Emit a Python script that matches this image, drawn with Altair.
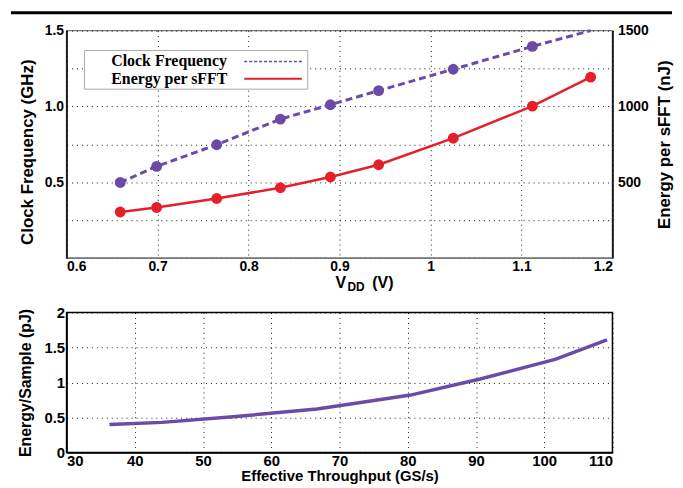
import altair as alt
import pandas as pd

# ---- data ----
vdd = [0.659, 0.699, 0.765, 0.835, 0.890, 0.943, 1.025, 1.112, 1.176]
clock_ghz = [0.498, 0.604, 0.747, 0.916, 1.011, 1.104, 1.245, 1.396, 1.50]
clock_marker = [True, True, True, True, True, True, True, True, False]
energy_nj = [303, 333, 392, 463, 534, 615, 790, 1002, 1193]

throughput = [36.3, 44.0, 54.4, 66.7, 73.6, 80.4, 90.6, 101.6, 109.2]
energy_per_sample = [0.40, 0.43, 0.51, 0.62, 0.72, 0.82, 1.05, 1.33, 1.61]

series_names = ["Clock Frequency", "Energy per sFFT"]
PURPLE = "#6B4BA6"
RED = "#E4202A"

FONT = "Liberation Sans"
SERIF = "Liberation Serif"

top_df = pd.DataFrame({"vdd": vdd, "clock": clock_ghz, "marker": clock_marker, "energy": energy_nj})
bot_df = pd.DataFrame({"tp": throughput, "eps": energy_per_sample})

W = 550
H_TOP = 229
H_BOT = 141

GRID = dict(grid=True, gridColor="#000", gridDash=[1, 4], gridOpacity=0.9)
LBL = dict(labelFont=FONT, labelFontWeight="bold", labelColor="#000", ticks=False)
TTL = dict(titleFont=FONT, titleFontWeight="bold", titleColor="#000")

xtop = alt.X("vdd:Q", scale=alt.Scale(domain=[0.6, 1.2], nice=False),
             axis=alt.Axis(values=[0.6, 0.7, 0.8, 0.9, 1.0, 1.1, 1.2], labelExpr="format(datum.value, '.1~f')",
                           title=None, domainColor="#777", labelPadding=2, labelFontSize=14, **GRID, **LBL))

y_clock = alt.Y("clock:Q", scale=alt.Scale(domain=[0, 1.5], nice=False),
                axis=alt.Axis(orient="left", values=[0, 0.25, 0.5, 0.75, 1.0, 1.25, 1.5],
                              labelExpr="(datum.value==0.5||datum.value==1||datum.value==1.5) ? format(datum.value,'.1f') : ''",
                              title="Clock Frequency (GHz)", titleFontSize=17, titlePadding=8, titleY=122,
                              domainColor="#000", domainWidth=1.5, labelPadding=3, labelFontSize=14,
                              **GRID, **LBL, **TTL))

y_energy = alt.Y("energy:Q", scale=alt.Scale(domain=[0, 1500], nice=False),
                 axis=alt.Axis(orient="right", values=[500, 1000, 1500], format="d",
                               title="Energy per sFFT (nJ)", titleFontSize=17,
                               titleAngle=-90, titleBaseline="top", titlePadding=8,
                               grid=False, domainColor="#000", domainWidth=1.5, labelPadding=5,
                               labelFontSize=14, **LBL, **TTL))

base = alt.Chart(top_df)
clock_line = base.mark_line(color=PURPLE, strokeWidth=3, strokeDash=[7, 4]).encode(x=xtop, y=y_clock)
clock_pts = base.transform_filter("datum.marker").mark_circle(color=PURPLE, size=120, opacity=1).encode(x=xtop, y=y_clock)
energy_line = base.mark_line(color=RED, strokeWidth=2.5).encode(x=xtop, y=y_energy)
energy_pts = base.mark_circle(color=RED, size=120, opacity=1).encode(x=xtop, y=y_energy)

clock_layer = alt.layer(clock_line, clock_pts)
energy_layer = alt.layer(energy_line, energy_pts)
data_layer = alt.layer(clock_layer, energy_layer).resolve_scale(y="independent")

# legend box and entries
leg_df = pd.DataFrame({"name": series_names})
one = alt.Chart(leg_df).transform_filter(f"datum.name=='{series_names[0]}'")
two = alt.Chart(leg_df).transform_filter(f"datum.name=='{series_names[1]}'")

legend_box = one.mark_rect(fill="white", stroke="#aaa", strokeWidth=1).encode(
    x=alt.value(18), x2=alt.value(243), y=alt.value(20), y2=alt.value(59))
leg_text1 = one.mark_text(font=SERIF, fontSize=16, fontWeight="bold", align="left", baseline="middle",
                          color="#000").encode(text="name:N", x=alt.value(45), y=alt.value(31))
leg_text2 = two.mark_text(font=SERIF, fontSize=16, fontWeight="bold", align="left", baseline="middle",
                          color="#000").encode(text="name:N", x=alt.value(45), y=alt.value(48.5))
leg_line1 = one.mark_rule(color=PURPLE, strokeWidth=1.5, strokeDash=[3, 2]).encode(
    x=alt.value(179), x2=alt.value(237), y=alt.value(31))
leg_line2 = two.mark_rule(color=RED, strokeWidth=2).encode(
    x=alt.value(179), x2=alt.value(237), y=alt.value(48.5))

# x title with subscript
xt_v = one.mark_text(text="V", font=FONT, fontSize=16, fontWeight="bold", align="left",
                     baseline="alphabetic", color="#000").encode(x=alt.value(271), y=alt.value(259.5))
xt_dd = one.mark_text(text="DD", font=FONT, fontSize=12, fontWeight="bold", align="left",
                      baseline="alphabetic", color="#000").encode(x=alt.value(283), y=alt.value(262.5))
xt_unit = one.mark_text(text="(V)", font=FONT, fontSize=16, fontWeight="bold", align="left",
                        baseline="alphabetic", color="#000").encode(x=alt.value(308), y=alt.value(259.5))

# header rule of the page
header = one.mark_rule(color="#000", strokeWidth=3).encode(
    x=alt.value(-56), x2=alt.value(610), y=alt.value(-18))

top = alt.layer(data_layer, legend_box, leg_line1, leg_line2, leg_text1, leg_text2,
                xt_v, xt_dd, xt_unit, header).properties(
    width=W, height=H_TOP, view=alt.ViewConfig(stroke="#777", strokeWidth=1.5))

bottom = alt.Chart(bot_df).mark_line(color=PURPLE, strokeWidth=3.5).encode(
    x=alt.X("tp:Q", scale=alt.Scale(domain=[30, 110], nice=False),
            axis=alt.Axis(values=list(range(30, 111, 10)), title="Effective Throughput (GS/s)",
                          titleFontSize=15, titlePadding=0,
                          domainColor="#000", domainWidth=1.5, labelPadding=1, labelFontSize=15,
                          **GRID, **LBL, **TTL)),
    y=alt.Y("eps:Q", scale=alt.Scale(domain=[0, 2], nice=False),
            axis=alt.Axis(values=[0, 0.5, 1, 1.5, 2], labelExpr="format(datum.value, '.1~f')",
                          title="Energy/Sample (pJ)", titleFontSize=16, titlePadding=10,
                          domainColor="#000", domainWidth=1.5, labelPadding=2, labelFontSize=15,
                          **GRID, **LBL, **TTL)),
).properties(width=W, height=H_BOT, view=alt.ViewConfig(stroke="#000", strokeWidth=1.5))

chart = alt.vconcat(top, bottom, spacing=10).properties(
    padding={"left": 0, "top": 0, "right": 0, "bottom": 0}, background="white")

chart.save("out.html", embed_options={"renderer": "svg", "actions": False})
